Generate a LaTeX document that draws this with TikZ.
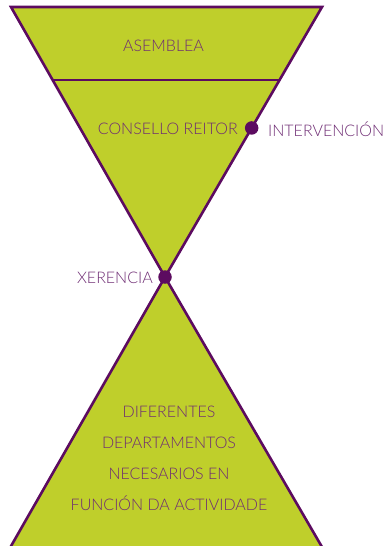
\documentclass[tikz,border=0pt]{standalone}
\usepackage{fontspec}
\usetikzlibrary{calc}
\setmainfont{Lato}[UprightFont=* Light]
\definecolor{lime}{HTML}{BFCF2B}
\definecolor{plum}{HTML}{5C0B60}
\definecolor{plumtext}{HTML}{6E2C73}
\tikzset{
  shape line/.style={draw=plum, line width=2.6pt, line join=miter},
  lbl/.style={text=plumtext, font=\fontsize{16}{17}\selectfont, inner sep=0pt},
  dot/.style={circle, fill=plum, minimum size=13.5pt, inner sep=0pt},
}
\begin{document}
\begin{tikzpicture}[x=1pt,y=-1pt]
\useasboundingbox (0,0) rectangle (383,546);
% top inverted triangle
\coordinate (tl) at (11,7);
\coordinate (tr) at (322,7);
\coordinate (apex) at (165,277);
\coordinate (bl) at (10.5,547);
\coordinate (br) at (322,547);
\coordinate (ml) at ($(tl)!0.2704!(apex)$);
\coordinate (mr) at ($(tr)!0.2704!(apex)$);
\fill[lime] (tl) -- (tr) -- (apex) -- cycle;
\fill[lime] (apex) -- (br) -- (bl) -- cycle;
\draw[shape line] (tl) -- (tr) -- (apex) -- cycle;
\draw[shape line] (ml) -- (mr);
\draw[shape line] (apex) -- (br);
\draw[shape line] (apex) -- (bl);
% dots
\node[dot] (intdot) at ($(tr)!0.448!(apex)$) {};
\node[dot] (xerdot) at (apex) {};
% labels
\node[lbl] (asemblea) at (163.5,46) {ASEMBLEA};
\node[lbl, anchor=east] (consello) at (238,129) {CONSELLO REITOR};
\node[lbl, anchor=west] (interv) at (268,129) {INTERVENCIÓN};
\node[lbl, anchor=east] (xerencia) at (153,278) {XERENCIA};
\node[lbl, align=center, font=\fontsize{16}{31}\selectfont] (depts) at (169,458)
  {DIFERENTES\\DEPARTAMENTOS\\NECESARIOS EN\\FUNCIÓN DA ACTIVIDADE};
\end{tikzpicture}
\end{document}
